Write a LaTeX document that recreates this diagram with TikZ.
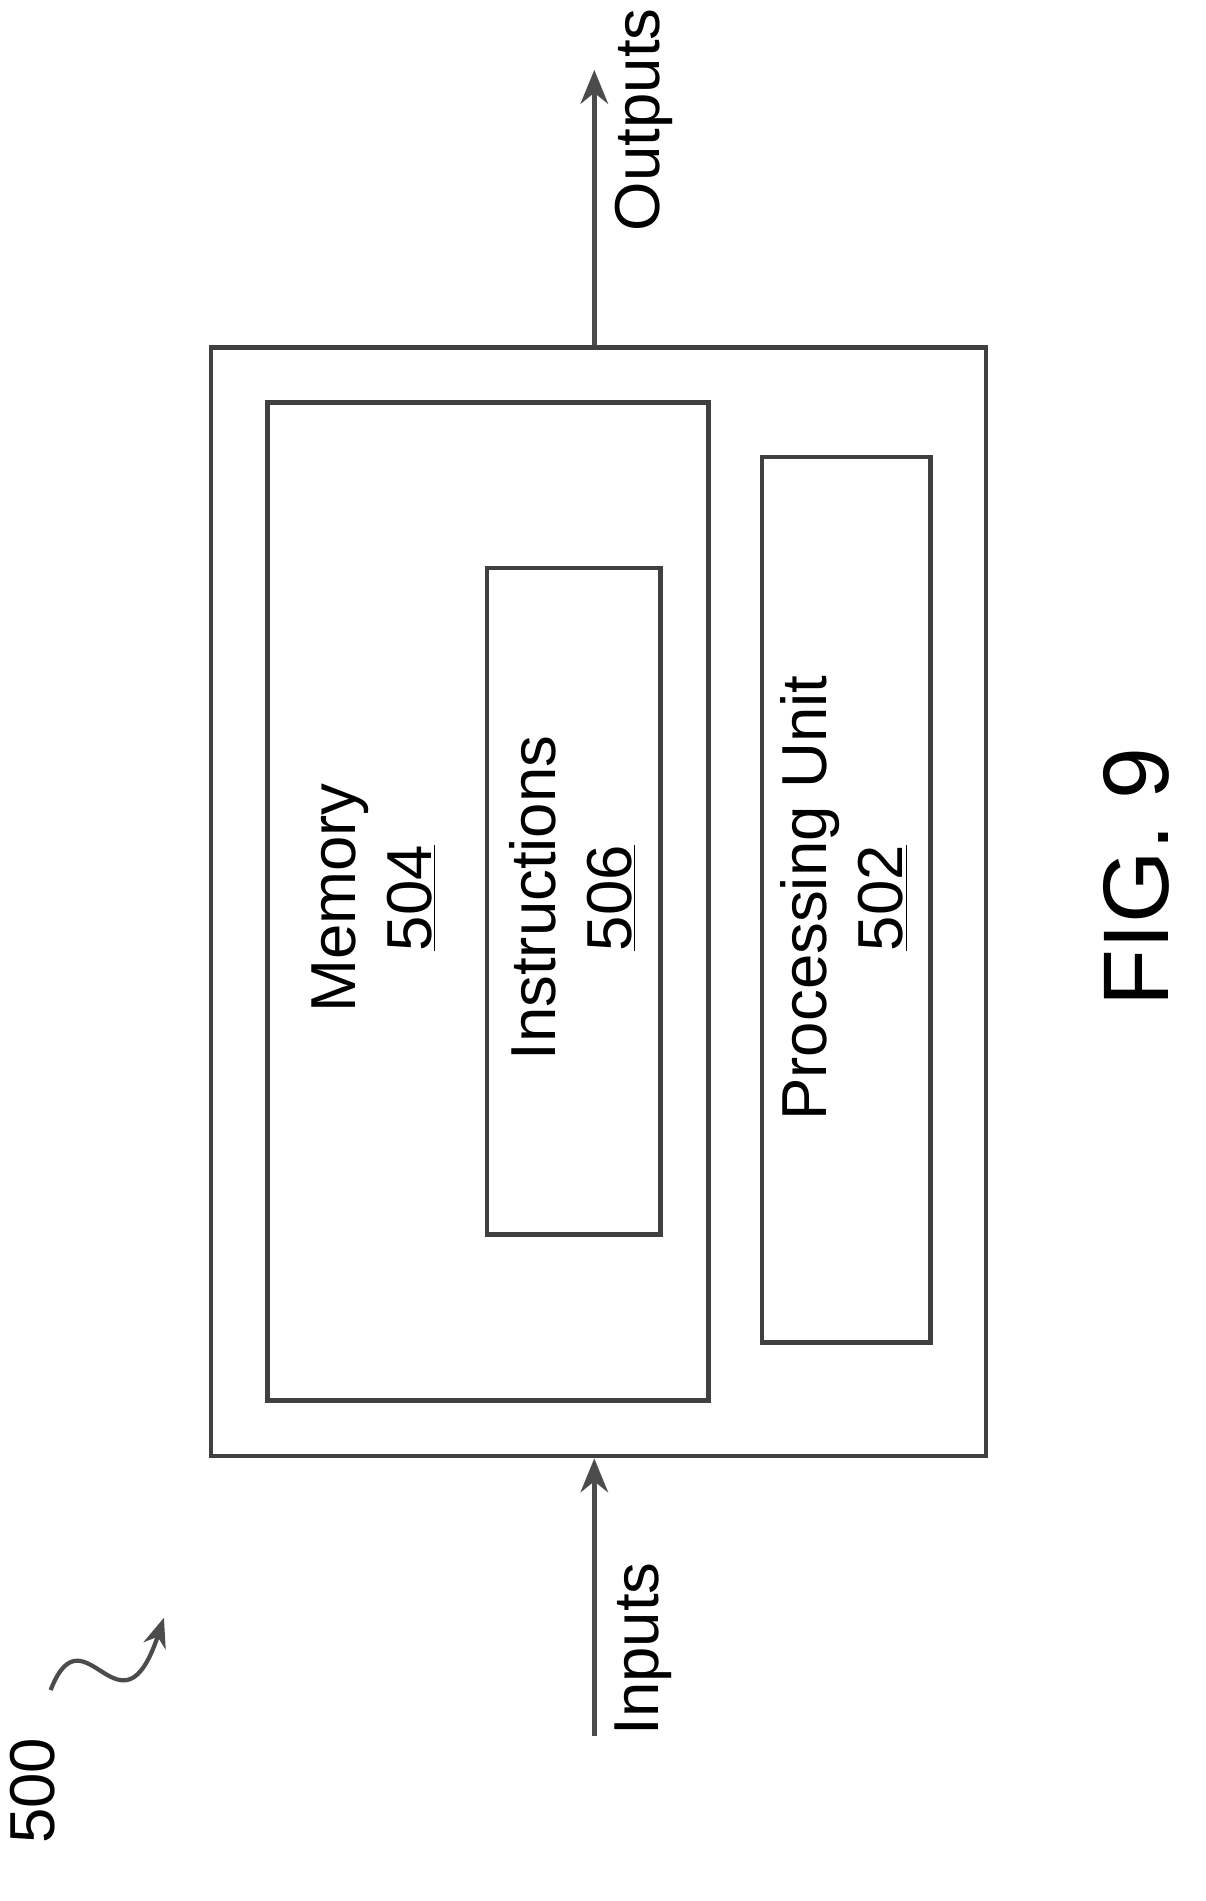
\documentclass[tikz,border=0pt]{standalone}
\usepackage{fontspec}
\setmainfont{Liberation Sans}
\usetikzlibrary{arrows.meta}
\begin{document}
\begin{tikzpicture}[x=0.02cm,y=-0.02cm,
    box/.style={draw=black!75,line width=2.2pt,rectangle,inner sep=0pt},
    lbl/.style={rotate=90,font=\fontsize{30}{36}\selectfont,align=center},
    flow/.style={draw=black!70,line width=2.2pt,-{Stealth[length=16pt,width=13pt]}}]
    \useasboundingbox (0,0) rectangle (1000,1577);

    \node[box,minimum width=12.86cm,minimum height=18.4cm] (outer) at (496.5,748) {};
    \node[box,minimum width=7.32cm,minimum height=16.56cm] (memory) at (405,748) {};
    \node[box,minimum width=2.88cm,minimum height=11.06cm] (instr) at (476,747.5) {};
    \node[box,minimum width=2.8cm,minimum height=14.7cm] (proc) at (702,746.5) {};

    \node[lbl] (memlbl) at (310,745) {Memory\\\underline{504}};
    \node[lbl] (instrlbl) at (475,745) {Instructions\\\underline{506}};
    \node[lbl] (proclbl) at (700,745) {Processing Unit\\\underline{502}};

    \coordinate (outtip) at (493,58);
    \coordinate (intail) at (493,1440);
    \draw[flow] (outer.north -| outtip) -- (outtip);
    \draw[flow] (intail) -- (outer.south -| intail);
    \node[lbl,anchor=north west,inner sep=0pt] (outlbl) at (510,192) {Outputs};
    \node[lbl,anchor=north west,inner sep=0pt] (inlbl) at (510,1440) {Inputs};

    \node[lbl,anchor=north west,inner sep=0pt] (fignum) at (915,835) {\fontsize{44}{50}\selectfont FIG. 9};

    \node[lbl,anchor=north west,inner sep=0pt] (reflbl) at (8,1530) {500};
    \coordinate (refstart) at (42,1402);
    \coordinate (reftip) at (136,1342);
    \draw[draw=black!70,line width=2pt,-{Stealth[length=14pt,width=11pt]}]
        (refstart) .. controls (70,1330) and (100,1450) .. (reftip);
\end{tikzpicture}
\end{document}
